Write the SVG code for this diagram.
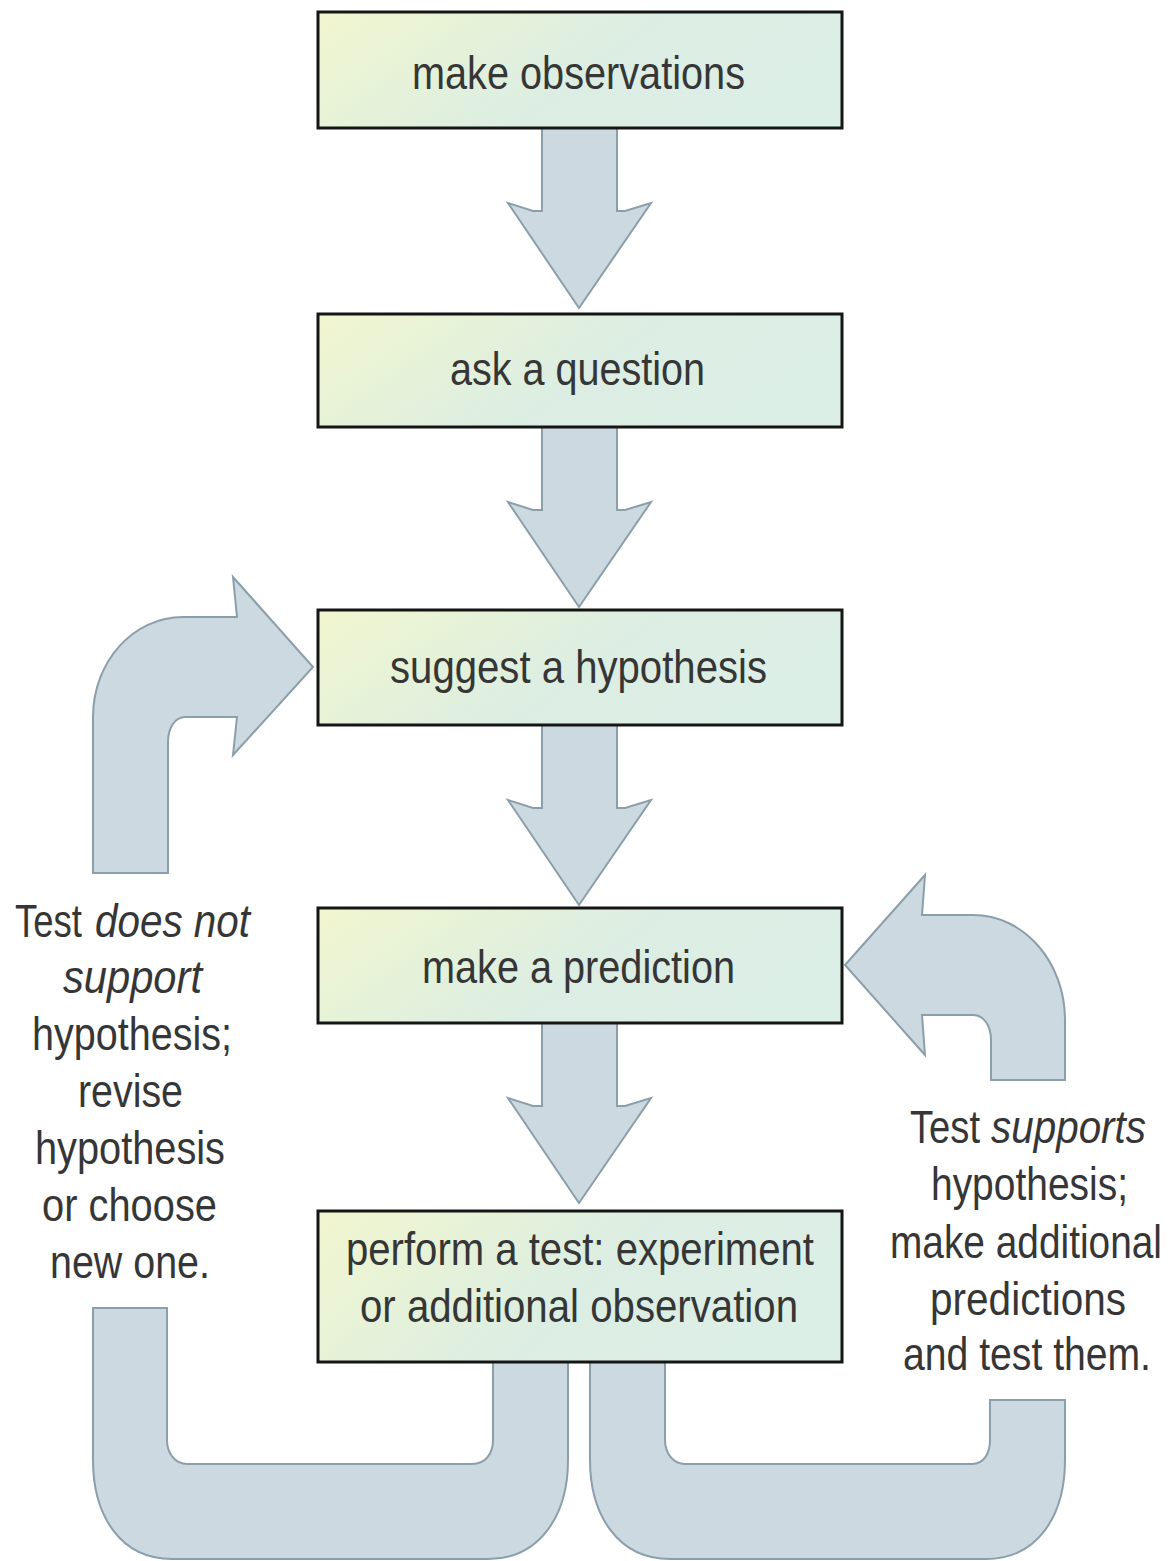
<svg xmlns="http://www.w3.org/2000/svg" width="1171" height="1561" viewBox="0 0 1171 1561">
<style>
.box{stroke:#151515;stroke-width:3;fill:url(#bg)}
.arr{fill:#cdd9e1;stroke:#8b9fab;stroke-width:2;stroke-linejoin:miter}
.t{font-family:"Liberation Sans",Arial,sans-serif;font-size:47px;fill:#363636}
.i{font-style:italic}
</style>
<defs>
<linearGradient id="bg" x1="0" y1="0" x2="1" y2="0.3">
<stop offset="0" stop-color="#f2f6cf"/>
<stop offset="0.3" stop-color="#e6f2d8"/>
<stop offset="0.6" stop-color="#dceee3"/>
<stop offset="1" stop-color="#dcefe6"/>
</linearGradient>
<path id="down" d="M-37,0 L-37,83 L-46,83 L-71,75 L0,180 L72,75 L46,83 L38,83 L38,0 Z"/>
</defs>
<rect width="1171" height="1561" fill="#fff"/>
<g id="connectors">
<use href="#down" class="arr" transform="translate(579,128)"/>
<use href="#down" class="arr" transform="translate(579,427)"/>
<use href="#down" class="arr" transform="translate(579,725)"/>
<use href="#down" class="arr" transform="translate(579,1023)"/>
<path class="arr" d="M93,873 L93,717 C93,662 133,617 183,617 L237,617 L233,577 L313,667 L233,755 L237,717 L185,717 C175,717 168,728 168,742 L168,873 Z"/>
<path class="arr" d="M845,965 L925,875 L922,915 L973,915 C1024,915 1065,962 1065,1020 L1065,1080 L991,1080 L991,1040 C991,1026 984,1015 973,1015 L922,1015 L925,1055 Z"/>
<path class="arr" d="M93,1308 L93,1460 C93,1515 120,1559 172,1559 L488,1559 C540,1559 568,1515 568,1460 L568,1362 L493,1362 L493,1440 C493,1453 486,1464 472,1464 L187,1464 C175,1464 167,1453 167,1440 L167,1308 Z"/>
<path class="arr" d="M590,1362 L590,1460 C590,1515 618,1559 670,1559 L986,1559 C1038,1559 1065,1515 1065,1460 L1065,1400 L990,1400 L990,1440 C990,1453 984,1464 972,1464 L685,1464 C673,1464 665,1453 665,1440 L665,1362 Z"/>
</g>
<g id="n1"><rect class="box" x="318" y="12" width="524" height="116"/>
<text class="t" x="412" y="89" textLength="333" lengthAdjust="spacingAndGlyphs">make observations</text></g>
<g id="n2"><rect class="box" x="318" y="314" width="524" height="113"/>
<text class="t" x="450" y="385" textLength="255" lengthAdjust="spacingAndGlyphs">ask a question</text></g>
<g id="n3"><rect class="box" x="318" y="610" width="524" height="115"/>
<text class="t" x="390" y="683" textLength="377" lengthAdjust="spacingAndGlyphs">suggest a hypothesis</text></g>
<g id="n4"><rect class="box" x="318" y="908" width="524" height="115"/>
<text class="t" x="422" y="983" textLength="313" lengthAdjust="spacingAndGlyphs">make a prediction</text></g>
<g id="n5"><rect class="box" x="318" y="1211" width="524" height="151"/>
<text class="t" x="346" y="1265" textLength="468" lengthAdjust="spacingAndGlyphs">perform a test: experiment</text>
<text class="t" x="360" y="1322" textLength="438" lengthAdjust="spacingAndGlyphs">or additional observation</text></g>
<g id="label-left">
<text class="t" x="15" y="937" textLength="67" lengthAdjust="spacingAndGlyphs">Test</text>
<text class="t i" x="95" y="937" textLength="155" lengthAdjust="spacingAndGlyphs">does not</text>
<text class="t i" x="63" y="993" textLength="139" lengthAdjust="spacingAndGlyphs">support</text>
<text class="t" x="32" y="1050" textLength="200" lengthAdjust="spacingAndGlyphs">hypothesis;</text>
<text class="t" x="78" y="1107" textLength="105" lengthAdjust="spacingAndGlyphs">revise</text>
<text class="t" x="35" y="1164" textLength="190" lengthAdjust="spacingAndGlyphs">hypothesis</text>
<text class="t" x="42" y="1221" textLength="175" lengthAdjust="spacingAndGlyphs">or choose</text>
<text class="t" x="50" y="1278" textLength="160" lengthAdjust="spacingAndGlyphs">new one.</text>
</g>
<g id="label-right" transform="translate(1028,0) scale(0.82,1)">
<text class="t" x="-143.9" y="1143" textLength="85.4" lengthAdjust="spacingAndGlyphs">Test</text>
<text class="t i" x="-45.1" y="1143" textLength="189" lengthAdjust="spacingAndGlyphs">supports</text>
<text class="t" x="-118.3" y="1200" textLength="240.2" lengthAdjust="spacingAndGlyphs">hypothesis;</text>
<text class="t" x="-168.3" y="1258" textLength="331.7" lengthAdjust="spacingAndGlyphs">make additional</text>
<text class="t" x="-119.5" y="1315" textLength="239" lengthAdjust="spacingAndGlyphs">predictions</text>
<text class="t" x="-152.4" y="1370" textLength="302.4" lengthAdjust="spacingAndGlyphs">and test them.</text>
</g>
</svg>
